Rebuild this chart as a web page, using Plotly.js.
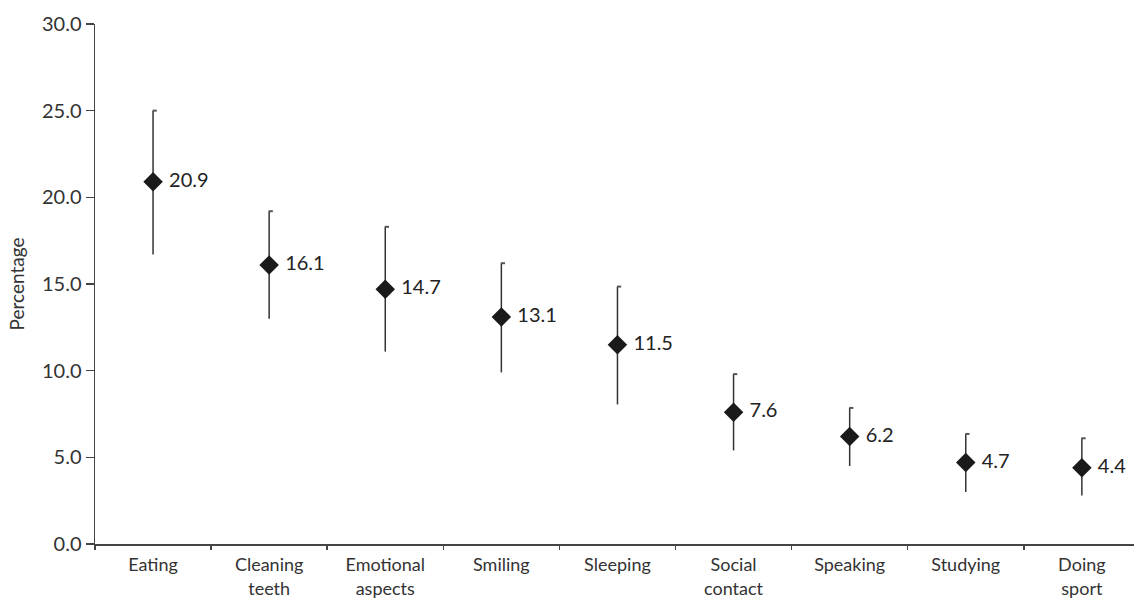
<!DOCTYPE html>
<html>
<head>
<meta charset="utf-8">
<script src="https://cdn.plot.ly/plotly-3.0.1.min.js"></script>
<style>html,body{margin:0;padding:0;background:#fff;}#chart{width:1134px;height:601px;}</style>
</head>
<body>
<div id="chart"></div>
<script>
const categories = ["Eating", "Cleaning<br>teeth", "Emotional<br>aspects", "Smiling", "Sleeping", "Social<br>contact", "Speaking", "Studying", "Doing<br>sport"];
const values = [20.9, 16.1, 14.7, 13.1, 11.5, 7.6, 6.2, 4.7, 4.4];
const upper = [25.0, 19.2, 18.3, 16.2, 14.85, 9.8, 7.85, 6.35, 6.1];
const lower = [16.7, 13.0, 11.1, 9.9, 8.05, 5.4, 4.5, 3.0, 2.8];
const yTicks = [0, 5, 10, 15, 20, 25, 30];

const idx = categories.map((c, i) => i);
const errPlus = values.map((v, i) => upper[i] - v);
const errMinus = values.map((v, i) => v - lower[i]);
const FONT = 'Lato, sans-serif';

const trace = {
  type: 'scatter',
  mode: 'markers',
  x: idx,
  y: values,
  marker: {symbol: 'diamond', size: 15, color: '#1a1a1a'},
  error_y: {type: 'data', symmetric: false, array: errPlus, arrayminus: errMinus,
            width: 0, thickness: 1.5, color: '#333'},
  cliponaxis: false,
  hoverinfo: 'none'
};

const labels = {
  type: 'scatter',
  mode: 'markers+text',
  x: idx,
  y: values,
  text: values.map(v => v.toFixed(1)),
  textposition: 'middle right',
  textfont: {family: FONT, size: 20, color: '#222'},
  marker: {size: 24, color: 'rgba(0,0,0,0)'},
  cliponaxis: false,
  hoverinfo: 'none'
};

const capShapes = upper.map((u, i) => ({
  type: 'line', xref: 'x', yref: 'y',
  x0: idx[i] - 0.004, x1: idx[i] + 0.032, y0: u, y1: u,
  line: {color: '#555', width: 2}
}));

const layout = {
  width: 1134, height: 601,
  margin: {l: 95, r: 0, t: 24, b: 57},
  paper_bgcolor: '#fff', plot_bgcolor: '#fff',
  showlegend: false,
  font: {family: FONT, size: 20, color: '#333'},
  xaxis: {
    type: 'linear',
    range: [-0.5, 8.449],
    tickmode: 'array',
    tickvals: idx,
    ticktext: categories,
    showgrid: false, zeroline: false,
    showline: true, linecolor: '#444', linewidth: 1.5,
    ticks: '',
    ticklabelstandoff: 4,
    tickfont: {family: FONT, size: 18, color: '#333'},
    fixedrange: true
  },
  xaxis2: {
    overlaying: 'x', matches: 'x', range: [-0.5, 8.449],
    tickmode: 'array', tickvals: idx.map(i => i - 0.5).concat([8.5]),
    ticks: 'outside', ticklen: 5, tickwidth: 1.5, tickcolor: '#444',
    showticklabels: false, showgrid: false, zeroline: false, showline: false,
    anchor: 'y', side: 'bottom'
  },
  yaxis: {
    range: [0, 30],
    tickmode: 'array', tickvals: yTicks, ticktext: yTicks.map(v => v.toFixed(1)),
    showgrid: false, zeroline: false,
    showline: true, linecolor: '#444', linewidth: 1.5,
    ticks: 'outside', ticklen: 8, tickwidth: 1.5, tickcolor: '#444',
    tickfont: {family: FONT, size: 20, color: '#333'},
    title: {text: 'Percentage', font: {family: FONT, size: 19, color: '#333'}, standoff: 12},
    fixedrange: true
  },
  shapes: capShapes
};

const dummy = {type: 'scatter', x: [0], y: [0], xaxis: 'x2', mode: 'none', hoverinfo: 'none', showlegend: false};

Plotly.newPlot('chart', [dummy, trace, labels], layout, {displayModeBar: false, staticPlot: true});
</script>
</body>
</html>
